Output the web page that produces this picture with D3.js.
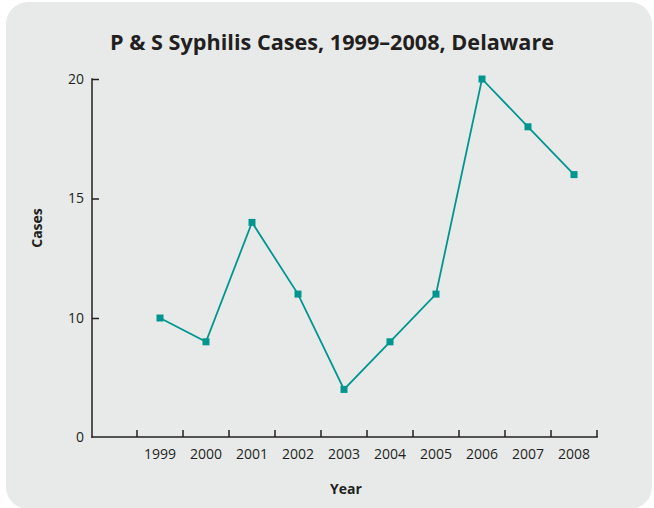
<!DOCTYPE html>
<html>
<head>
<meta charset="utf-8">
<script src="https://cdn.jsdelivr.net/npm/d3@7"></script>
<style>
  html, body { margin: 0; padding: 0; background: #ffffff; }
  svg { display: block; }
  text { font-family: "Open Sans", "Noto Sans", sans-serif; }
</style>
</head>
<body>
<svg id="chart" width="654" height="508"></svg>
<script>
const years = ["1999","2000","2001","2002","2003","2004","2005","2006","2007","2008"];
const cases = [10, 8, 14, 11, 4, 8, 11, 20, 18, 16];
const yTicks = [0, 10, 15, 20];
const titleText = "P & S Syphilis Cases, 1999\u20132008, Delaware";

const svg = d3.select("#chart");

// panel background with rounded corners
svg.append("rect")
  .attr("x", 6).attr("y", 2)
  .attr("width", 646).attr("height", 507)
  .attr("rx", 22).attr("ry", 22)
  .attr("fill", "#e8eaea");

const x0 = 92, xEnd = 597, yBase = 437, yTop = 79;

const x = d3.scaleBand().domain(years).range([137, 597]);
// broken (piecewise) value axis: 0–10 compressed, 10–20 expanded
const y = d3.scaleLinear().domain([0, 10, 20]).range([yBase, 318, yTop]);

// title
svg.append("text")
  .attr("x", 332).attr("y", 50)
  .attr("text-anchor", "middle")
  .attr("font-size", 21.5).attr("font-weight", 700)
  .attr("fill", "#231f20")
  .attr("textLength", 444).attr("lengthAdjust", "spacingAndGlyphs")
  .text(titleText);

// y axis
const yAxis = d3.axisRight(y).tickValues(yTicks).tickSize(7).tickFormat(d3.format("d"));
const gy = svg.append("g").attr("transform", `translate(${x0},0)`).call(yAxis);
gy.select(".domain").remove();
gy.selectAll(".tick line").attr("stroke", "#231f20").attr("stroke-width", 1.5)
  .filter(d => d === 0).remove();
gy.selectAll(".tick text").attr("text-anchor", "end").attr("x", -8)
  .attr("font-size", 14).attr("fill", "#231f20")
  .attr("font-family", "'Open Sans', 'Noto Sans', sans-serif");
svg.append("line").attr("x1", x0).attr("x2", x0).attr("y1", yTop - 0.75).attr("y2", yBase + 0.75)
  .attr("stroke", "#231f20").attr("stroke-width", 1.5);

// x axis (ticks at band boundaries, labels at band centres)
svg.append("line").attr("x1", x0 - 0.75).attr("x2", xEnd + 0.75).attr("y1", yBase).attr("y2", yBase)
  .attr("stroke", "#231f20").attr("stroke-width", 1.5);
const bounds = years.map(d => x(d)).concat([x(years[years.length - 1]) + x.bandwidth()]);
svg.append("g").selectAll("line").data(bounds).join("line")
  .attr("x1", d => d).attr("x2", d => d)
  .attr("y1", yBase).attr("y2", yBase - 7)
  .attr("stroke", "#231f20").attr("stroke-width", 1.5);
svg.append("g").selectAll("text").data(years).join("text")
  .attr("x", d => x(d) + x.bandwidth() / 2)
  .attr("y", yBase + 22)
  .attr("text-anchor", "middle")
  .attr("font-size", 14).attr("fill", "#231f20")
  .text(d => d);

// axis titles
svg.append("text")
  .attr("x", 346).attr("y", 494)
  .attr("text-anchor", "middle")
  .attr("font-size", 14).attr("font-weight", 700).attr("fill", "#231f20")
  .text("Year");
svg.append("text")
  .attr("transform", "translate(42,228) rotate(-90)")
  .attr("text-anchor", "middle")
  .attr("font-size", 14).attr("font-weight", 700).attr("fill", "#231f20")
  .text("Cases");

// line + markers
const pts = years.map((d, i) => ({ year: d, v: cases[i] }));
const line = d3.line().x(d => x(d.year) + x.bandwidth() / 2).y(d => y(d.v));
svg.append("path").datum(pts)
  .attr("d", line).attr("fill", "none")
  .attr("stroke", "#00968f").attr("stroke-width", 1.8);
const s = 7;
svg.append("g").selectAll("rect").data(pts).join("rect")
  .attr("x", d => x(d.year) + x.bandwidth() / 2 - s / 2)
  .attr("y", d => y(d.v) - s / 2)
  .attr("width", s).attr("height", s)
  .attr("fill", "#00968f");
</script>
</body>
</html>
